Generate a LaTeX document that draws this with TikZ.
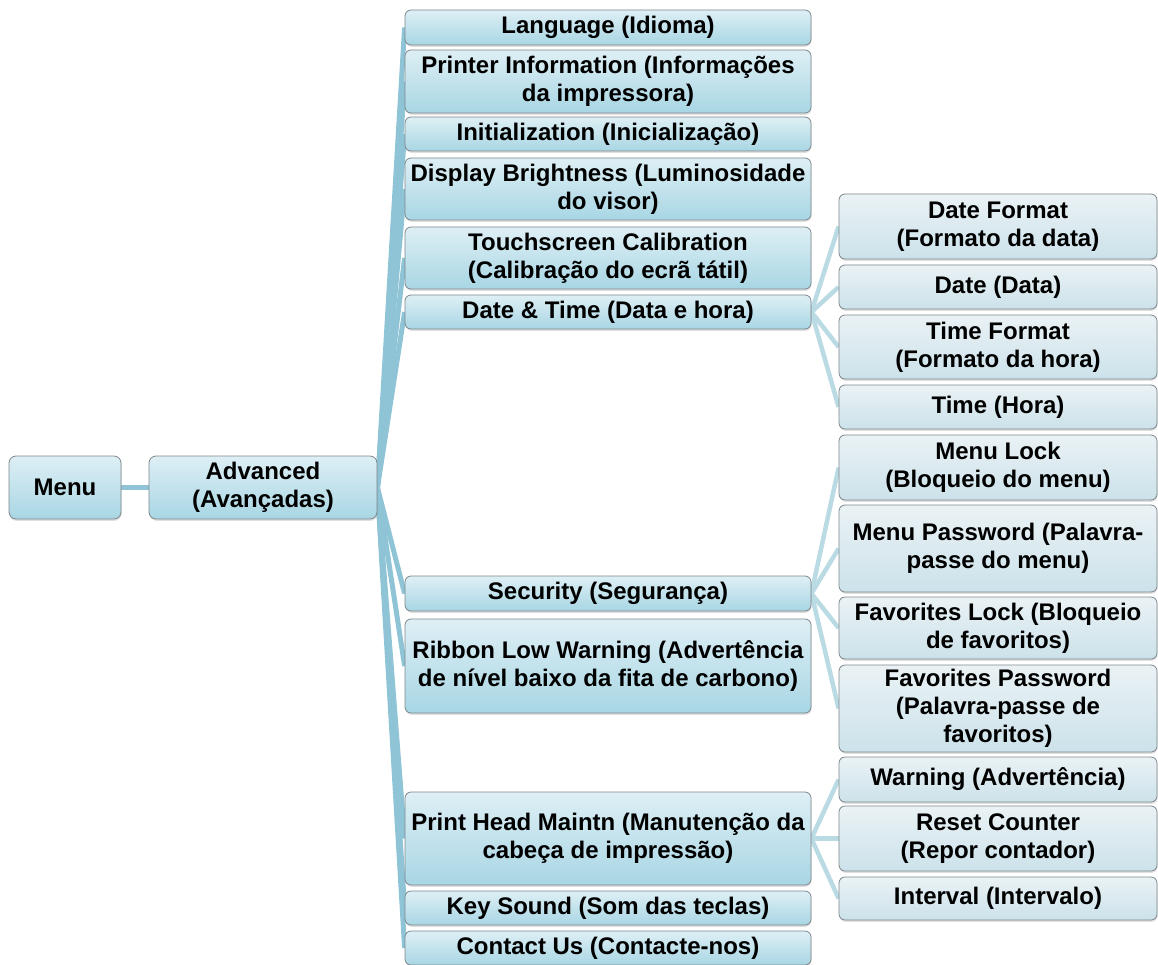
\documentclass[tikz,border=0pt]{standalone}
\usepackage{fontspec}
\setmainfont{Liberation Sans}
\usetikzlibrary{shadows,backgrounds}

\definecolor{boxtop}{RGB}{222,239,245}
\definecolor{boxbot}{RGB}{168,214,228}
\definecolor{subtop}{RGB}{234,242,245}
\definecolor{subbot}{RGB}{204,226,234}
\definecolor{boxline}{RGB}{125,135,140}
\definecolor{linkblue}{RGB}{142,196,213}
\definecolor{sublinkblue}{RGB}{186,218,228}

\begin{document}
\begin{tikzpicture}[x=1pt,y=-1pt,
	font=\fontsize{24}{28}\selectfont\bfseries,
	box/.style={draw=boxline, line width=0.8pt, rounded corners=6pt, align=center, inner sep=0pt,
		drop shadow={opacity=0.25, shadow xshift=0.6pt, shadow yshift=-1.8pt}},
	topbox/.style={box, top color=boxtop, bottom color=boxbot},
	midbox/.style={topbox, minimum width=406pt},
	subbox/.style={box, top color=subtop, bottom color=subbot, minimum width=318pt},
	link/.style={draw=linkblue, line width=5pt},
	sublink/.style={draw=sublinkblue, line width=4.5pt}]
	\useasboundingbox (0,0) rectangle (1158,965);
	%\draw [help lines, step=50pt] (0,0) grid (1158,965);

	% root and first level
	\node [topbox, minimum width=112pt, minimum height=63pt, rounded corners=7pt] (menu) at (65,487.5) {Menu};
	\node [topbox, minimum width=228pt, minimum height=63pt, rounded corners=7pt] (adv) at (263,487.5) {Advanced\\(Avançadas)};

	% second level
	\node [midbox, minimum height=35pt] (lang) at (608,27.5) {Language (Idioma)};
	\node [midbox, minimum height=63pt] (info) at (608,81.5) {Printer Information (Informações\\da impressora)};
	\node [midbox, minimum height=34pt] (init) at (608,134) {Initialization (Inicialização)};
	\node [midbox, minimum height=62pt] (bright) at (608,189) {Display Brightness (Luminosidade\\do visor)};
	\node [midbox, minimum height=62pt] (touch) at (608,258) {Touchscreen Calibration\\(Calibração do ecrã tátil)};
	\node [midbox, minimum height=34pt] (datetime) at (608,312) {Date \& Time (Data e hora)};
	\node [midbox, minimum height=35pt] (secur) at (608,593.5) {Security (Segurança)};
	\node [midbox, minimum height=94pt] (ribbon) at (608,666) {Ribbon Low Warning (Advertência\\de nível baixo da fita de carbono)};
	\node [midbox, minimum height=93pt] (head) at (608,838.5) {Print Head Maintn (Manutenção da\\cabeça de impressão)};
	\node [midbox, minimum height=34pt] (keysnd) at (608,908) {Key Sound (Som das teclas)};
	\node [midbox, minimum height=34pt] (contact) at (608,948) {Contact Us (Contacte-nos)};

	% third level
	\node [subbox, minimum height=65pt] (datefmt) at (998,226.5) {Date Format\\(Formato da data)};
	\node [subbox, minimum height=44pt] (date) at (998,287) {Date (Data)};
	\node [subbox, minimum height=64pt] (timefmt) at (998,347) {Time Format\\(Formato da hora)};
	\node [subbox, minimum height=44pt] (time) at (998,407) {Time (Hora)};
	\node [subbox, minimum height=65pt] (menulock) at (998,467.5) {Menu Lock\\(Bloqueio do menu)};
	\node [subbox, minimum height=87pt] (menupw) at (998,548.5) {Menu Password (Palavra-\\passe do menu)};
	\node [subbox, minimum height=62pt] (favlock) at (998,628) {Favorites Lock (Bloqueio\\de favoritos)};
	\node [subbox, minimum height=87pt] (favpw) at (998,708.5) {Favorites Password\\(Palavra-passe de\\favoritos)};
	\node [subbox, minimum height=45pt] (warn) at (998,779.5) {Warning (Advertência)};
	\node [subbox, minimum height=65pt] (reset) at (998,838.5) {Reset Counter\\(Repor contador)};
	\node [subbox, minimum height=43pt] (intvl) at (998,898.5) {Interval (Intervalo)};

	% connectors behind the boxes
	\begin{scope}[on background layer]
		\draw [link] (menu.east) -- (adv.west);
		\foreach \n in {lang,info,init,bright,touch,datetime,secur,ribbon,head,keysnd,contact}
			\draw [link] (adv.east) -- (\n.west);
		\foreach \n in {datefmt,date,timefmt,time}
			\draw [sublink] (datetime.east) -- (\n.west);
		\foreach \n in {menulock,menupw,favlock,favpw}
			\draw [sublink] (secur.east) -- (\n.west);
		\foreach \n in {warn,reset,intvl}
			\draw [sublink] (head.east) -- (\n.west);
	\end{scope}
\end{tikzpicture}
\end{document}
